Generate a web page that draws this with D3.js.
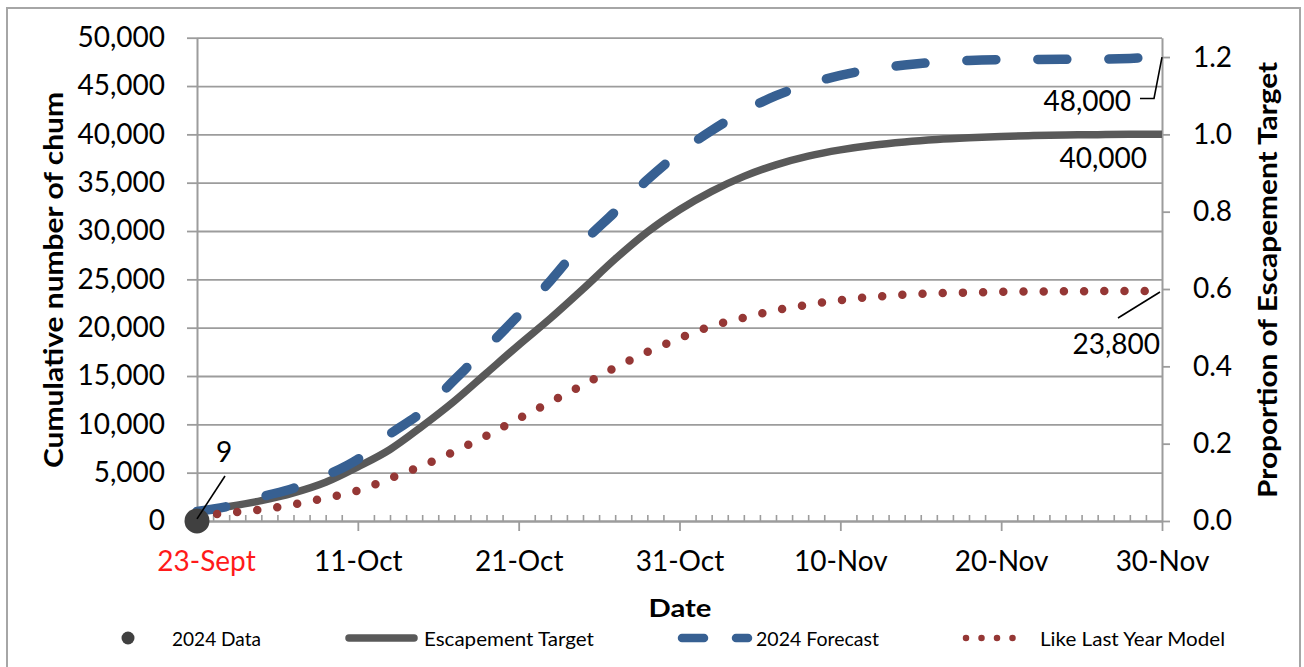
<!DOCTYPE html>
<html>
<head>
<meta charset="utf-8">
<script src="https://cdn.jsdelivr.net/npm/d3@7"></script>
<style>
  html, body { margin: 0; padding: 0; background: #ffffff; }
  svg { display: block; font-family: Lato, "Open Sans", sans-serif; }
</style>
</head>
<body>
<svg id="chart" width="1304" height="667"></svg>
<script>
// ---------- DATA ----------
const days = [0,2,4,6,8,10,12,14,16,18,20,22,24,26,28,30,32,34,36,38,40,42,44,46,48,50,52,54,56,58,60];
const escapementTarget = [1000,1500,2100,2900,4000,5600,7400,9800,12400,15300,18200,21000,24000,27100,29900,32200,34100,35650,36850,37750,38400,38880,39220,39470,39650,39790,39870,39930,39970,40000,40000];
const forecast2024 = [1000,1550,2500,3400,4700,6400,9000,11300,14600,17900,21300,24900,28800,32000,35300,38100,40400,42400,44000,45200,46100,46750,47170,47470,47650,47730,47750,47760,47780,47860,48000];
const likeLastYear = [500,850,1180,1720,2380,3140,4400,5720,7200,8830,10600,12330,14070,15870,17480,18900,20160,21020,21800,22380,22850,23180,23420,23560,23640,23710,23740,23760,23780,23790,23800];
const data2024Days = [0];
const data2024Values = [9];

const xTickDays = [0,10,20,30,40,50,60];
const xTickLabels = ["23-Sept","11-Oct","21-Oct","31-Oct","10-Nov","20-Nov","30-Nov"];
const yTicks = [0,5000,10000,15000,20000,25000,30000,35000,40000,45000,50000];
const yRightTicks = [0,0.2,0.4,0.6,0.8,1.0,1.2];
const escapementGoal = 40000;

const seriesNames = ["2024 Data","Escapement Target","2024 Forecast","Like Last Year Model"];

// ---------- LAYOUT ----------
const svg = d3.select("#chart");
const L = 197, R = 1162, T = 37.7, B = 521;
const x = d3.scaleLinear().domain([0,60]).range([L,R]);
const y = d3.scaleLinear().domain([0,50000]).range([B,T]);
const yR = d3.scaleLinear().domain([0,50000/escapementGoal]).range([B,T]);

const gridColor = "#9c9c9c";
const colGray = "#595959", colBlue = "#376092", colRed = "#953735";

// outer frame
svg.append("rect").attr("x",7).attr("y",8).attr("width",1293).attr("height",680)
  .attr("fill","none").attr("stroke","#a6a6a6").attr("stroke-width",2);

// gridlines
svg.append("g").attr("transform",`translate(${L},0)`)
  .call(d3.axisLeft(y).tickValues(yTicks).tickSize(-(R-L)).tickFormat(""))
  .call(g => g.select(".domain").remove())
  .call(g => g.selectAll("line").attr("stroke",gridColor).attr("stroke-width",1.8));

// left axis
svg.append("g").attr("transform",`translate(${L},0)`)
  .call(d3.axisLeft(y).tickValues(yTicks).tickSize(10).tickSizeOuter(0).tickPadding(22).tickFormat(d3.format(",")))
  .call(g => g.select(".domain").attr("stroke",gridColor).attr("stroke-width",2))
  .call(g => g.selectAll("line").attr("stroke",gridColor).attr("stroke-width",1.8))
  .call(g => g.selectAll("text").attr("font-size",28).attr("fill","#000").attr("font-family","Lato"));

// right axis
svg.append("g").attr("transform",`translate(${R},0)`)
  .call(d3.axisRight(yR).tickValues(yRightTicks).tickSize(8).tickSizeOuter(0).tickPadding(23).tickFormat(d3.format(".1f")))
  .call(g => g.select(".domain").attr("stroke",gridColor).attr("stroke-width",2))
  .call(g => g.selectAll("line").attr("stroke",gridColor).attr("stroke-width",1.8))
  .call(g => g.selectAll("text").attr("font-size",28).attr("fill","#000").attr("font-family","Lato"));

// x axis minor ticks (daily, pointing up)
svg.append("g").attr("transform",`translate(0,${B})`)
  .call(d3.axisBottom(x).tickValues(d3.range(0,61).filter(d => d % 10 !== 0)).tickSize(-6).tickSizeOuter(0).tickFormat(""))
  .call(g => g.select(".domain").remove())
  .call(g => g.selectAll("line").attr("stroke",gridColor).attr("stroke-width",1.6));

// x axis major
svg.append("g").attr("transform",`translate(0,${B})`)
  .call(d3.axisBottom(x).tickValues(xTickDays).tickSize(10).tickSizeOuter(0).tickPadding(20)
        .tickFormat((d,i) => xTickLabels[i]))
  .call(g => g.select(".domain").attr("stroke",gridColor).attr("stroke-width",2))
  .call(g => g.selectAll("line").attr("stroke",gridColor).attr("stroke-width",1.8))
  .call(g => g.selectAll("text").attr("font-size",28).attr("fill","#000").attr("font-family","Lato"))
  .call(g => g.selectAll("text").filter((d,i) => i === 0).attr("fill","#ff1a1a").attr("dx",9));

// ---------- SERIES ----------
const line = d3.line().x(d => x(d[0])).y(d => y(d[1])).curve(d3.curveMonotoneX);

svg.append("path").datum(days.map((d,i) => [d, escapementTarget[i]]))
  .attr("d", line).attr("fill","none").attr("stroke",colGray).attr("stroke-width",7.5)
  .attr("stroke-linejoin","round");

svg.append("path").datum(days.map((d,i) => [d, forecast2024[i]]))
  .attr("d", line).attr("fill","none").attr("stroke",colBlue).attr("stroke-width",9.5)
  .attr("stroke-linecap","round").attr("stroke-dasharray","29 42");

svg.append("path").datum(days.map((d,i) => [d, likeLastYear[i]]))
  .attr("d", line).attr("fill","none").attr("stroke",colRed).attr("stroke-width",8.5)
  .attr("stroke-linecap","round").attr("stroke-dasharray","0 20.2");

svg.selectAll("circle.pt").data(data2024Days.map((d,i) => [d, data2024Values[i]])).enter()
  .append("circle").attr("class","pt")
  .attr("cx", d => x(d[0])).attr("cy", d => y(d[1])).attr("r",12.5).attr("fill","#404040");

// ---------- ANNOTATIONS ----------
const fmt = d3.format(",");
function ann(txt, tx, ty, anchor) {
  return svg.append("text").attr("x",tx).attr("y",ty).attr("text-anchor",anchor)
    .attr("dominant-baseline","central").attr("font-size",28).attr("fill","#000").text(txt);
}
// 2024 data label
const d0 = [data2024Days[0], data2024Values[0]];
svg.append("line").attr("x1",x(d0[0])).attr("y1",y(d0[1])-2).attr("x2",x(d0[0])+28).attr("y2",476)
  .attr("stroke","#000").attr("stroke-width",1.6);
ann(fmt(d0[1]), 224, 451, "middle");

// forecast end label
const fEnd = forecast2024[forecast2024.length-1];
svg.append("path").attr("d",`M1140,98.5 L1154,98.5 L${x(60)},${y(fEnd)}`)
  .attr("fill","none").attr("stroke","#000").attr("stroke-width",1.6);
ann(fmt(fEnd), 1131, 100, "end");

// escapement end label
const eEnd = escapementTarget[escapementTarget.length-1];
ann(fmt(eEnd), 1147, 157, "end");

// LLY end label
const lEnd = likeLastYear[likeLastYear.length-1];
svg.append("line").attr("x1",1118).attr("y1",318).attr("x2",x(60)-2).attr("y2",y(lEnd)+1)
  .attr("stroke","#000").attr("stroke-width",1.6);
ann(fmt(lEnd), 1160, 343, "end");

// ---------- TITLES ----------
svg.append("text").attr("transform","translate(63,280) rotate(-90)")
  .attr("text-anchor","middle").attr("font-size",27).attr("font-weight","bold")
  .attr("textLength",376).attr("lengthAdjust","spacingAndGlyphs")
  .text("Cumulative number of chum");
svg.append("text").attr("transform","translate(1277,280) rotate(-90)")
  .attr("text-anchor","middle").attr("font-size",27).attr("font-weight","bold")
  .attr("textLength",436).attr("lengthAdjust","spacingAndGlyphs")
  .text("Proportion of Escapement Target");
svg.append("text").attr("x",680).attr("y",617)
  .attr("text-anchor","middle").attr("font-size",25).attr("font-weight","bold")
  .attr("textLength",63).attr("lengthAdjust","spacingAndGlyphs")
  .text("Date");

// ---------- LEGEND ----------
const ly = 638;
const leg = svg.append("g");
leg.append("circle").attr("cx",128).attr("cy",ly).attr("r",6.5).attr("fill","#404040");
leg.append("line").attr("x1",349).attr("x2",414).attr("y1",ly).attr("y2",ly)
  .attr("stroke",colGray).attr("stroke-width",7.5).attr("stroke-linecap","round");
leg.append("line").attr("x1",682).attr("x2",704).attr("y1",ly).attr("y2",ly)
  .attr("stroke",colBlue).attr("stroke-width",8.5).attr("stroke-linecap","round");
leg.append("line").attr("x1",736).attr("x2",748).attr("y1",ly).attr("y2",ly)
  .attr("stroke",colBlue).attr("stroke-width",8.5).attr("stroke-linecap","round");
leg.append("line").attr("x1",966).attr("x2",1028).attr("y1",ly).attr("y2",ly)
  .attr("stroke",colRed).attr("stroke-width",6.5).attr("stroke-linecap","round")
  .attr("stroke-dasharray","0 15.5");
const legTexts = [[172,89],[424,170],[756,123],[1040,185]];
legTexts.forEach((p,i) => {
  leg.append("text").attr("x",p[0]).attr("y",ly).attr("dominant-baseline","central")
    .attr("font-size",19).attr("fill","#000")
    .attr("textLength",p[1]).attr("lengthAdjust","spacingAndGlyphs")
    .text(seriesNames[i]);
});
</script>
</body>
</html>
